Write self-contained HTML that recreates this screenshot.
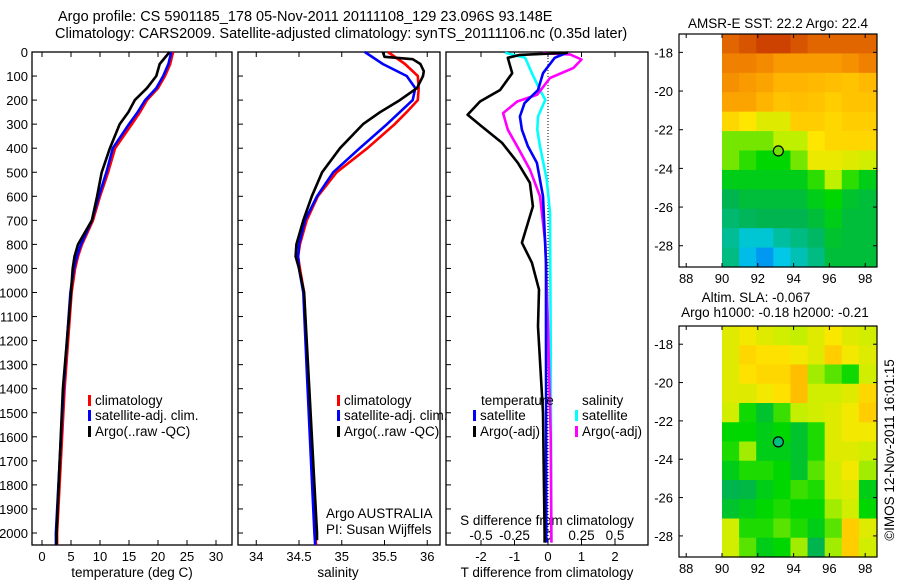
<!DOCTYPE html>
<html><head><meta charset="utf-8"><style>
html,body{margin:0;padding:0;background:#fff;}
svg{display:block;font-family:"Liberation Sans",sans-serif;}
</style></head><body>
<svg id="fig" width="900" height="580" viewBox="0 0 900 580" xmlns="http://www.w3.org/2000/svg">
<text x="58" y="21" font-size="14.5">Argo profile: CS 5901185_178 05-Nov-2011 20111108_129 23.096S 93.148E</text>
<text x="55" y="38" font-size="14.5">Climatology: CARS2009. Satellite-adjusted climatology: synTS_20111106.nc (0.35d later)</text>
<g id="g"></g>
</svg>
<script>
// ---- profile data ----
const depths = [0,50,100,150,200,250,300,400,500,600,700,800,850,900,1000,1400,2000,2050];
const tempClim = [22.6,22.1,21.2,20,18.1,16.9,15.5,12.6,11.4,10,8.8,6.9,6.2,5.7,5.1,3.9,2.6,2.6];
const tempSat  = [22.3,21.8,20.9,19.7,17.8,16.5,15,12.2,11.1,9.8,8.6,6.7,6.0,5.5,4.9,3.7,2.4,2.4];
const tempArgo = [22.0,20.3,19.7,18.1,16,14.9,13.4,11.7,10.3,9.5,8.6,6.2,5.6,5.3,5.0,3.6,2.5,2.5];
const salClim = [35.54,35.74,35.89,35.9,35.89,35.76,35.62,35.3,34.94,34.72,34.59,34.51,34.49,34.51,34.56,34.61,34.69,34.70];
const salSat  = [35.27,35.48,35.76,35.86,35.83,35.68,35.53,35.21,34.9,34.71,34.57,34.5,34.49,34.5,34.55,34.6,34.68,34.69];
const salArgoDepths = [0,20,30,50,80,100,150,200,250,300,400,500,600,700,800,850,900,1000,1400,2000,2030];
const salArgo = [35.48,35.5,35.83,35.92,35.96,35.95,35.88,35.68,35.45,35.25,34.98,34.77,34.65,34.55,34.47,34.46,34.5,34.56,34.62,34.71,34.71];
// ---- difference data ----
const dTArgoDepths = [3,12,24,88,158,206,261,310,378,461,544,642,793,876,988,1141,1500,2000,2040];
const dTArgo = [0.6,-0.84,-1.2,-1.07,-1.43,-2.03,-2.4,-1.97,-1.37,-0.9,-0.54,-0.45,-0.78,-0.48,-0.27,-0.3,-0.15,-0.1,-0.1];
const dTSatDepths = [3,24,88,158,213,268,323,392,461,600,876,1200,2040];
const dTSat = [0.57,0.2,-0.15,-0.3,-0.7,-0.84,-0.78,-0.6,-0.33,-0.15,-0.06,-0.06,-0.05];
const dSArgoDepths = [5,10,31,66,108,177,206,254,323,392,489,600,793,1141,1600,2040];
const dSArgo = [-0.04,0.165,0.25,0.19,0.015,-0.08,-0.23,-0.335,-0.3,-0.23,-0.135,-0.06,-0.02,0,0.02,0.025];
const dSSatDepths = [3,24,88,158,199,268,323,392,530,668,1200,2040];
const dSSat = [-0.32,-0.17,-0.12,-0.06,-0.02,-0.075,-0.08,-0.06,-0.01,0.015,0.02,0.025];
// ---- map data (rows from north to south, cols west->east, normalised colour 0..1) ----
const sstGrid = [
[0.88,0.9,0.92,0.92,0.9,0.88,0.88,0.88,0.88],
[0.85,0.85,0.83,0.8,0.8,0.8,0.8,0.82,0.85],
[0.82,0.8,0.78,0.75,0.75,0.74,0.73,0.72,0.74],
[0.78,0.78,0.75,0.72,0.73,0.72,0.7,0.72,0.72],
[0.68,0.65,0.6,0.6,0.7,0.7,0.68,0.7,0.7],
[0.5,0.5,0.5,0.55,0.55,0.65,0.68,0.68,0.68],
[0.5,0.45,0.42,0.42,0.5,0.62,0.62,0.6,0.58],
[0.4,0.4,0.4,0.4,0.4,0.45,0.55,0.45,0.4],
[0.35,0.37,0.37,0.37,0.37,0.4,0.42,0.38,0.37],
[0.32,0.34,0.35,0.35,0.35,0.37,0.4,0.37,0.37],
[0.28,0.22,0.22,0.27,0.3,0.33,0.38,0.37,0.37],
[0.3,0.18,0.12,0.2,0.25,0.3,0.37,0.37,0.37]];
const slaGrid = [
[0.6,0.63,0.6,0.58,0.56,0.6,0.64,0.6,0.58],
[0.6,0.68,0.66,0.66,0.63,0.6,0.7,0.63,0.6],
[0.6,0.66,0.68,0.68,0.73,0.53,0.48,0.43,0.58],
[0.6,0.6,0.63,0.66,0.73,0.58,0.58,0.6,0.68],
[0.58,0.43,0.38,0.46,0.56,0.58,0.6,0.63,0.7],
[0.42,0.42,0.4,0.42,0.38,0.44,0.6,0.63,0.63],
[0.44,0.53,0.4,0.4,0.38,0.44,0.6,0.6,0.58],
[0.4,0.44,0.44,0.42,0.38,0.48,0.58,0.63,0.53],
[0.35,0.36,0.4,0.42,0.46,0.44,0.58,0.6,0.4],
[0.38,0.4,0.42,0.44,0.42,0.42,0.53,0.58,0.42],
[0.58,0.44,0.44,0.48,0.44,0.4,0.48,0.7,0.6],
[0.58,0.48,0.4,0.42,0.53,0.35,0.53,0.7,0.58]];
const depthTicks = [0,100,200,300,400,500,600,700,800,900,1000,1100,1200,1300,1400,1500,1600,1700,1800,1900,2000];
const tempTicks = [0,5,10,15,20,25,30];
const salTicks = [34,34.5,35,35.5,36];
const salTickLabels = ["34","34.5","35","35.5","36"];
const dTTicks = [-2,-1,0,1,2];
const dSTicks = [-0.5,-0.25,0,0.25,0.5];
const lonTicks = [88,90,92,94,96,98];
const latTicks = [-18,-20,-22,-24,-26,-28];
const argoLon = 93.148, argoLat = -23.096;

const NS="http://www.w3.org/2000/svg";
const G=document.getElementById('g');
function mk(tag,attrs,parent){const e=document.createElementNS(NS,tag);for(const k in attrs)e.setAttribute(k,attrs[k]);(parent||G).appendChild(e);return e;}
function txt(s,x,y,anchor,size,name){const t=mk('text',{x:x,y:y,'text-anchor':anchor||'start','font-size':size||13});t.textContent=s;


return t;}

const yD = d => 52 + d*0.2405;
const xT = t => 42 + t*5.8;
const xS = s => 299 + (s-34.5)*85.5;
const xDT = v => 548 + v*33.5;
const xDS = v => 548 + v*134;
const PT=52, PB=545;
const panels=[[32,232,'temperature-panel'],[238,440,'salinity-panel'],[446,648,'difference-panel']];
panels.forEach(p=>{
  const r=mk('rect',{x:p[0],y:PT,width:p[1]-p[0],height:PB-PT,fill:'none',stroke:'#000','stroke-width':1.3});
  
  
  depthTicks.forEach(d=>{mk('line',{x1:p[0],x2:p[0]+5,y1:yD(d),y2:yD(d),stroke:'#000'});});
});
depthTicks.forEach(d=>{txt(String(d),28,yD(d)+5,'end',13,'y-tick-label');});
tempTicks.forEach(t=>{mk('line',{x1:xT(t),x2:xT(t),y1:PB,y2:PB-5,stroke:'#000'});mk('line',{x1:xT(t),x2:xT(t),y1:PT,y2:PT+5,stroke:'#000'});txt(String(t),xT(t),561,'middle',13,'temp-tick-label');});
salTicks.forEach((s,i)=>{mk('line',{x1:xS(s),x2:xS(s),y1:PB,y2:PB-5,stroke:'#000'});mk('line',{x1:xS(s),x2:xS(s),y1:PT,y2:PT+5,stroke:'#000'});txt(salTickLabels[i],xS(s),561,'middle',13,'sal-tick-label');});
dTTicks.forEach(v=>{mk('line',{x1:xDT(v),x2:xDT(v),y1:PB,y2:PB-5,stroke:'#000'});mk('line',{x1:xDT(v),x2:xDT(v),y1:PT,y2:PT+5,stroke:'#000'});txt(String(v),xDT(v),561,'middle',13,'dt-tick-label');});
dSTicks.forEach(v=>{txt(String(v),xDS(v),540,'middle',13.5,'ds-tick-label');});
txt('temperature (deg C)',132,577,'middle',13.5,'temp-axis-title');
txt('salinity',338,577,'middle',13.5,'sal-axis-title');
txt('T difference from climatology',547,577,'middle',13.5,'dt-axis-title');
txt('S difference from climatology',547,525,'middle',13.5,'ds-axis-title');
mk('line',{x1:xDT(0),x2:xDT(0),y1:PT,y2:PB,stroke:'#000','stroke-dasharray':'1,2'});
txt('Argo AUSTRALIA',326,518,'start',13.5,'institution-label');
txt('PI: Susan Wijffels',326,534,'start',13.5,'pi-label');

function line(xs,ds,xf,col,name){
  const pts=xs.map((v,i)=>xf(v).toFixed(1)+','+yD(ds[i]).toFixed(1)).join(' ');
  const l=mk('polyline',{points:pts,fill:'none',stroke:col,'stroke-width':2.6,'stroke-linejoin':'round'});
  
  
}
line(tempClim,depths,xT,'#ff0000','temp-climatology-line');
line(tempSat,depths,xT,'#0000ff','temp-satellite-line');
line(tempArgo,depths,xT,'#000000','temp-argo-line');
line(salClim,depths,xS,'#ff0000','sal-climatology-line');
line(salSat,depths,xS,'#0000ff','sal-satellite-line');
line(salArgo,salArgoDepths,xS,'#000000','sal-argo-line');
line(dSSat,dSSatDepths,xDS,'#00ffff','ds-satellite-line');
line(dSArgo,dSArgoDepths,xDS,'#ff00ff','ds-argo-line');
line(dTSat,dTSatDepths,xDT,'#0000ff','dt-satellite-line');
line(dTArgo,dTArgoDepths,xDT,'#000000','dt-argo-line');

function legend(x,y,col,label){
  const r=mk('rect',{x:x,y:y-10,width:3,height:11,fill:col});
  
  
  txt(label,x+7,y,'start',13.5,'legend-entry');
}
legend(88,405,'#ff0000','climatology');legend(88,420,'#0000ff','satellite-adj. clim.');legend(88,436,'#000000','Argo(..raw -QC)');
legend(337,405,'#ff0000','climatology');legend(337,420,'#0000ff','satellite-adj. clim.');legend(337,436,'#000000','Argo(..raw -QC)');
txt('temperature',481,405,'start',13.5,'legend-title-temperature');
txt('salinity',582,405,'start',13.5,'legend-title-salinity');
legend(473,420,'#0000ff','satellite');legend(473,436,'#000000','Argo(-adj)');
legend(575,420,'#00ffff','satellite');legend(575,436,'#ff00ff','Argo(-adj)');

const stops=[[0,[0,80,255]],[0.2,[0,200,230]],[0.35,[0,180,80]],[0.42,[0,215,0]],[0.55,[190,240,0]],[0.65,[255,230,0]],[0.75,[255,180,0]],[0.85,[240,128,0]],[0.95,[190,40,0]],[1,[170,0,0]]];
function cmap(v){for(let i=1;i<stops.length;i++){if(v<=stops[i][0]){const a=stops[i-1],b=stops[i],f=(v-a[0])/(b[0]-a[0]);return 'rgb('+a[1].map((c,k)=>Math.round(c+(b[1][k]-c)*f)).join(',')+')';}}return 'rgb(170,0,0)';}

function map(grid,top,bot,name,markerCol){
  const L=679,R=877;
  const lon=v=>722+(v-90)*17.9;
  const latTop=-17.05, latBot=-29.1;
  const lat=v=>top+(latTop-v)/(latTop-latBot)*(bot-top);
  const rows=grid.length, cols=grid[0].length;
  const cw=(R-1-722)/cols, ch=(bot-top)/rows;
  grid.forEach((row,ri)=>row.forEach((v,ci)=>{
    const c=mk('rect',{x:(722+ci*cw).toFixed(2),y:(top+ri*ch).toFixed(2),width:(cw+0.6).toFixed(2),height:(ch+0.6).toFixed(2),fill:cmap(v)});
    
    
  }));
  const b=mk('rect',{x:L,y:top,width:R-L,height:bot-top,fill:'none',stroke:'#000','stroke-width':1.2});
  
  
  lonTicks.forEach(v=>{mk('line',{x1:lon(v),x2:lon(v),y1:bot,y2:bot-4,stroke:'#000'});mk('line',{x1:lon(v),x2:lon(v),y1:top,y2:top+4,stroke:'#000'});txt(String(v),lon(v),bot+16,'middle',13,'lon-tick-label');});
  latTicks.forEach(v=>{mk('line',{x1:L,x2:L+4,y1:lat(v),y2:lat(v),stroke:'#000'});mk('line',{x1:R,x2:R-4,y1:lat(v),y2:lat(v),stroke:'#000'});txt(String(v),673,lat(v)+5,'end',13,'lat-tick-label');});
  const m=mk('circle',{cx:lon(argoLon),cy:lat(argoLat),r:5,fill:markerCol,stroke:'#000','stroke-width':1.2});
  
  
}
map(sstGrid,34,267,'sst-map','#70e000');
map(slaGrid,326,557,'sla-map','#00c080');
txt('AMSR-E SST: 22.2  Argo: 22.4',778,28,'middle',13.5,'sst-map-title');
txt('Altim. SLA: -0.067',756,302,'middle',13.5,'sla-map-title');
txt('Argo h1000: -0.18  h2000: -0.21',775,317,'middle',13.5,'sla-map-subtitle');
const c=txt('©IMOS 12-Nov-2011 16:01:15',0,0,'middle',13.5,'copyright-label');
c.setAttribute('transform','translate(894,450) rotate(-90)');
</script>
</body></html>
